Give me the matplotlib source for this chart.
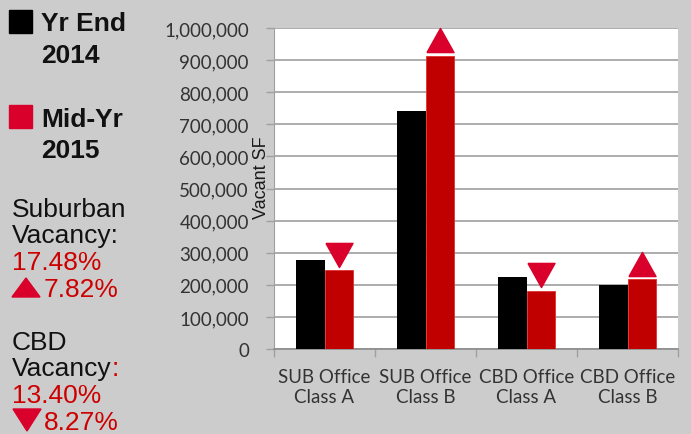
import matplotlib
matplotlib.use("Agg")
import matplotlib.pyplot as plt
import matplotlib.transforms as mtransforms
from matplotlib.path import Path
import numpy as np

categories = ["SUB Office\nClass A", "SUB Office\nClass B", "CBD Office\nClass A", "CBD Office\nClass B"]
yr_end_2014 = [277000, 741000, 225000, 198000]
mid_yr_2015 = [246000, 913000, 181000, 217000]
yticks = [0, 100000, 200000, 300000, 400000, 500000, 600000, 700000, 800000, 900000, 1000000]

W, H = 691, 435
BG = "#cccccc"
BLACK = "#000000"
BAR_RED = "#c00000"
MARK_RED = "#d9002b"
TXT_RED = "#cc0000"

fig = plt.figure(figsize=(W / 100, H / 100), dpi=100, facecolor=BG)
ax = fig.add_axes([274 / W, (H - 350) / H, 404 / W, 321 / H])
ax.set_facecolor("white")

x = np.arange(len(categories))
bw = 0.286
ax.bar(x - bw / 2, yr_end_2014, bw, color=BLACK, zorder=3)
ax.bar(x + bw / 2, mid_yr_2015, bw, color=BAR_RED, edgecolor="#e03030", linewidth=0.6, zorder=3)

# change arrows above the 2015 bars
up = Path([(-0.56, -0.5), (0.56, -0.5), (0, 0.5), (-0.56, -0.5)])
down = Path([(-0.56, 0.5), (0.56, 0.5), (0, -0.5), (-0.56, 0.5)])
shift = mtransforms.offset_copy(ax.transData, fig=fig, x=0, y=15.5, units="dots")
for i in range(len(categories)):
    m = up if mid_yr_2015[i] > yr_end_2014[i] else down
    ax.plot(x[i] + bw / 2, mid_yr_2015[i], marker=m, ms=19.5, color=MARK_RED,
            transform=shift, zorder=4, clip_on=False)

ax.set_xlim(-0.5, 3.5)
ax.set_ylim(0, 1000000)
ax.set_yticks(yticks)
ax.set_yticklabels([f"{v:,}" for v in yticks], family="Lato", fontsize=13.5, color="#333333")
ax.yaxis.grid(True, color="#a6a6a6", lw=1.3, zorder=0)
ax.tick_params(axis="y", length=6, width=1, color="#a0a0a0", pad=12)

ax.set_xticks(np.arange(-0.5, 4, 1))
ax.set_xticklabels([])
ax.set_xticks(x, minor=True)
ax.set_xticklabels(categories, minor=True, family="Lato", fontsize=13.5, color="#333333")
ax.tick_params(axis="x", which="major", length=6, width=1, color="#a0a0a0")
ax.tick_params(axis="x", which="minor", length=0, pad=14)

for s in ["top", "right"]:
    ax.spines[s].set_visible(False)
ax.spines["left"].set_color("#a0a0a0")
ax.spines["bottom"].set_color("#8c8c8c")
ax.spines["bottom"].set_linewidth(1.2)

fig.text(261 / W, 1 - 178 / H, "Vacant SF", rotation=90, ha="center", va="center",
         family="Liberation Sans", fontsize=13, color="#1a1a1a")

# legend / notes panel on the left
def px(xp, yp):
    return xp / W, 1 - yp / H

fam = ["Liberation Sans", "DejaVu Sans"]
FS = 19
fig.patches.append(plt.Rectangle(px(9, 34), 23 / W, 23 / H, transform=fig.transFigure,
                                 color=BLACK, figure=fig))
fig.patches.append(plt.Rectangle(px(9, 129), 23 / W, 23 / H, transform=fig.transFigure,
                                 color=MARK_RED, figure=fig))
for yp, t in [(31, "Yr End"), (63, "2014"), (127, "Mid-Yr"), (158, "2015")]:
    fig.text(*px(41, yp), t, family=fam, fontsize=FS, fontweight="bold", va="baseline", color="#111111")

for yp, t, c in [(217, "Suburban", "#111111"), (243, "Vacancy:", "#111111"),
                 (270, "17.48%", TXT_RED), (350, "CBD", "#111111"), (403, "13.40%", TXT_RED)]:
    fig.text(*px(12, yp), t, family=fam, fontsize=FS, va="baseline", color=c)

# "Vacancy" in black with a red colon
vac = fig.text(*px(12, 376), "Vacancy", family=fam, fontsize=FS, va="baseline", color="#111111")
fig.canvas.draw()
bb = vac.get_window_extent()
fig.text(bb.x1 / W, 1 - 376 / H, ":", family=fam, fontsize=FS, va="baseline", color=TXT_RED)

# triangles in the notes
fig.patches.append(plt.Polygon([px(12, 298), px(40, 298), px(26, 279)], closed=True,
                               transform=fig.transFigure, color=MARK_RED, figure=fig))
fig.patches.append(plt.Polygon([px(13, 410), px(41, 410), px(27, 432)], closed=True,
                               transform=fig.transFigure, color=MARK_RED, figure=fig))
fig.text(*px(44, 297), "7.82%", family=fam, fontsize=FS, va="baseline", color=TXT_RED)
fig.text(*px(44, 430), "8.27%", family=fam, fontsize=FS, va="baseline", color=TXT_RED)

fig.savefig("out.png", dpi=100, facecolor=BG)
